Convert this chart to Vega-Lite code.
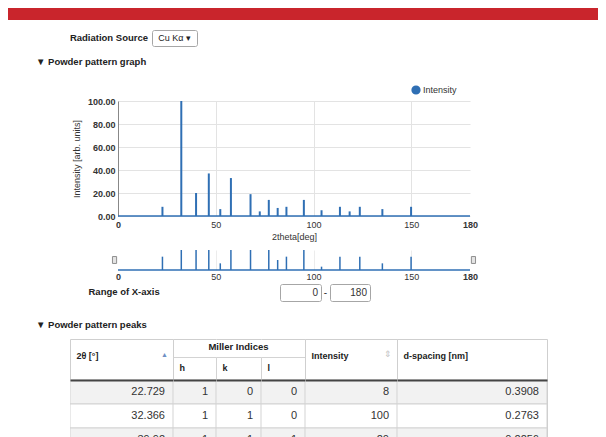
{
  "$schema": "https://vega.github.io/schema/vega-lite/v6.json",
  "background": "white",
  "padding": {"left": 8, "top": 8, "right": 8, "bottom": 0},
  "config": {
    "font": "Liberation Sans",
    "view": {"stroke": null},
    "title": {"font": "Liberation Sans", "fontWeight": "bold", "fontSize": 9.5, "color": "#222222"},
    "axis": {"labelFont": "Liberation Sans", "titleFont": "Liberation Sans"},
    "legend": {"labelFont": "Liberation Sans"}
  },
  "datasets": {
    "peaks": [
      {"tt": 22.729, "h": 1, "k": 0, "l": 0, "I": 8, "d": 0.3908},
      {"tt": 32.366, "h": 1, "k": 1, "l": 0, "I": 100, "d": 0.2763},
      {"tt": 39.92, "h": 1, "k": 1, "l": 1, "I": 20, "d": 0.2256},
      {"tt": 46.434, "h": 2, "k": 0, "l": 0, "I": 37, "d": 0.1954},
      {"tt": 52.304, "h": 2, "k": 1, "l": 0, "I": 6, "d": 0.1748},
      {"tt": 57.74, "h": 2, "k": 1, "l": 1, "I": 33, "d": 0.1595},
      {"tt": 67.77, "h": 2, "k": 2, "l": 0, "I": 19, "d": 0.1382},
      {"tt": 72.5, "h": 3, "k": 0, "l": 0, "I": 4, "d": 0.1303},
      {"tt": 77.11, "h": 3, "k": 1, "l": 0, "I": 14, "d": 0.1236},
      {"tt": 81.65, "h": 3, "k": 1, "l": 1, "I": 7, "d": 0.1178},
      {"tt": 86.13, "h": 2, "k": 2, "l": 2, "I": 8, "d": 0.1128},
      {"tt": 95.04, "h": 3, "k": 2, "l": 1, "I": 14, "d": 0.1044},
      {"tt": 104.08, "h": 4, "k": 0, "l": 0, "I": 5, "d": 0.0977},
      {"tt": 113.49, "h": 4, "k": 1, "l": 1, "I": 8, "d": 0.0921},
      {"tt": 118.45, "h": 3, "k": 3, "l": 1, "I": 4, "d": 0.0897},
      {"tt": 123.65, "h": 4, "k": 2, "l": 0, "I": 8, "d": 0.0874},
      {"tt": 135.19, "h": 3, "k": 3, "l": 2, "I": 6, "d": 0.0833},
      {"tt": 149.87, "h": 4, "k": 2, "l": 2, "I": 8, "d": 0.0798}
    ],
    "range": [{"tt": 0}, {"tt": 180}]
  },
  "spacing": 9,
  "resolve": {"scale": {"color": "independent"}, "legend": {"color": "independent"}},
  "vconcat": [
    {
      "width": 590,
      "height": 12,
      "view": {"fill": "#c9252c", "stroke": null},
      "data": {"values": []},
      "mark": "point"
    },
    {
      "bounds": "flush",
      "spacing": 0,
      "hconcat": [
        {
          "width": 144, "height": 16,
          "title": {"text": "Radiation Source", "anchor": "end", "frame": "group", "dx": -4, "offset": -12},
          "data": {"values": []}, "mark": "point"
        },
        {
          "width": 45, "height": 16,
          "view": {"stroke": "#a6a6a6", "fill": "#ffffff", "cornerRadius": 2},
          "data": {"values": [{"src": "Cu Kα ▾"}]},
          "mark": {"type": "text", "fontSize": 9, "color": "#222222"},
          "encoding": {"text": {"field": "src", "type": "nominal"}}
        }
      ]
    },
    {
      "spacing": 18,
      "resolve": {"scale": {"color": "independent"}, "legend": {"color": "independent"}},
      "vconcat": [
        {
          "bounds": "flush",
          "spacing": 0,
          "resolve": {"scale": {"color": "independent"}, "legend": {"color": "independent"}},
          "hconcat": [
            {"width": 110, "height": 10, "data": {"values": []}, "mark": "point"},
            {
              "title": {"text": "▼ Powder pattern graph", "anchor": "start", "frame": "group", "dx": -82, "offset": 19},
              "bounds": "flush",
              "spacing": 34,
              "resolve": {"scale": {"color": "independent"}, "legend": {"color": "independent"}},
              "vconcat": [
                {
                  "width": 352,
                  "height": 115,
                  "layer": [
                    {
                      "data": {"name": "peaks"},
                      "mark": {"type": "rule", "strokeWidth": 2},
                      "encoding": {
                        "x": {
                          "field": "tt", "type": "quantitative",
                          "scale": {"domain": [0, 180], "nice": false},
                          "axis": {
                            "values": [0, 50, 100, 150, 180],
                            "labelFontSize": 9, "labelOverlap": false,
                            "labelFontWeight": {"condition": {"test": "datum.value == 0 || datum.value == 180", "value": "bold"}, "value": "normal"},
                            "labelColor": "#333333",
                            "ticks": false, "domain": false, "labelPadding": 4, "labelFlush": false,
                            "gridColor": {"condition": {"test": "datum.value == 0 || datum.value == 180", "value": "transparent"}, "value": "#e3e3e3"},
                            "title": "2theta[deg]", "titleFontSize": 9, "titleFontWeight": "normal", "titleColor": "#333333", "titlePadding": 3
                          }
                        },
                        "y": {
                          "field": "I", "type": "quantitative",
                          "scale": {"domain": [0, 100]},
                          "axis": {
                            "values": [0, 20, 40, 60, 80, 100], "tickCount": 6, "format": ".2f", "labelOverlap": false,
                            "labelFontWeight": "bold", "labelFontSize": 9, "labelColor": "#333333",
                            "ticks": false, "labelPadding": 3, "domain": true, "domainColor": "#888888",
                            "gridColor": "#e3e3e3",
                            "title": "Intensity [arb. units]", "titleFontSize": 9, "titleFontWeight": "normal", "titleColor": "#333333", "titlePadding": 6
                          }
                        },
                        "y2": {"datum": 0},
                        "color": {
                          "datum": "Intensity", "type": "nominal",
                          "scale": {"range": ["#2f6fb4"]},
                          "legend": {
                            "orient": "none", "legendX": 293, "legendY": -16, "title": null,
                            "symbolType": "circle", "symbolSize": 60, "symbolFillColor": "#2f6fb4", "symbolStrokeColor": "#2f6fb4",
                            "labelFontSize": 9, "labelColor": "#333333", "labelOffset": 2
                          }
                        }
                      }
                    },
                    {
                      "data": {"values": [{}]},
                      "mark": {"type": "rule", "color": "#2f6fb4", "strokeWidth": 1.5},
                      "encoding": {
                        "y": {
                          "datum": 0, "type": "quantitative",
                          "axis": {
                            "values": [0, 20, 40, 60, 80, 100], "tickCount": 6, "format": ".2f", "labelOverlap": false,
                            "labelFontWeight": "bold", "labelFontSize": 9, "labelColor": "#333333",
                            "ticks": false, "labelPadding": 3, "domain": true, "domainColor": "#888888",
                            "gridColor": "#e3e3e3",
                            "title": "Intensity [arb. units]", "titleFontSize": 9, "titleFontWeight": "normal", "titleColor": "#333333", "titlePadding": 6
                          }
                        }
                      }
                    }
                  ]
                },
                {
                  "bounds": "flush",
                  "spacing": 14,
                  "vconcat": [
                    {
                      "width": 352,
                      "height": 20,
                      "layer": [
                        {
                          "data": {"name": "peaks"},
                          "mark": {"type": "rule", "color": "#2f6fb4", "strokeWidth": 1.5},
                          "encoding": {
                            "x": {
                              "field": "tt", "type": "quantitative",
                              "scale": {"domain": [0, 180], "nice": false},
                              "axis": {
                                "values": [0, 50, 100, 150, 180],
                                "labelFontSize": 9, "labelOverlap": false,
                                "labelFontWeight": {"condition": {"test": "datum.value == 0 || datum.value == 180", "value": "bold"}, "value": "normal"},
                                "labelColor": "#333333",
                                "ticks": false, "domain": false, "labelPadding": 2, "labelFlush": false,
                                "gridColor": {"condition": {"test": "datum.value == 0 || datum.value == 180", "value": "transparent"}, "value": "#ececec"},
                                "title": "Range of X-axis", "titleFontSize": 9.5, "titleFontWeight": "bold", "titleColor": "#222222",
                                "titleX": -30, "titleY": 21, "titleAlign": "left", "titleBaseline": "middle"
                              }
                            },
                            "y": {"field": "I", "type": "quantitative", "scale": {"domain": [4, 10], "clamp": true}, "axis": null},
                            "y2": {"datum": 0}
                          }
                        },
                        {
                          "data": {"values": [{}]},
                          "mark": {"type": "rule", "color": "#2f6fb4", "strokeWidth": 1.5},
                          "encoding": {"y": {"datum": 0}}
                        },
                        {
                          "data": {"name": "range"},
                          "mark": {"type": "point", "filled": true, "fill": "#e4e4e4", "stroke": "#8f8f8f", "strokeWidth": 1, "opacity": 1, "size": 48},
                          "encoding": {
                            "x": {"field": "tt", "type": "quantitative"},
                            "y": {"datum": 7, "type": "quantitative"},
                            "shape": {"condition": {"test": "datum.tt == 0", "value": "M-1.6,-1L-0.4,-1L-0.4,1L-1.6,1Z"}, "value": "M0.4,-1L1.6,-1L1.6,1L0.4,1Z"}
                          }
                        }
                      ]
                    },
                    {
                      "bounds": "flush",
                      "spacing": 0,
                      "hconcat": [
                        {"width": 162, "height": 10, "data": {"values": []}, "mark": "point"},
                        {
                          "width": 41, "height": 17,
                          "view": {"stroke": "#a6a6a6", "fill": "#ffffff", "cornerRadius": 2},
                          "data": {"values": [{"v": 0}]},
                          "mark": {"type": "text", "align": "right", "dx": -3, "fontSize": 10, "color": "#333333"},
                          "encoding": {"x": {"datum": 1, "type": "quantitative", "scale": {"domain": [0, 1]}, "axis": null}, "text": {"field": "v", "type": "nominal"}}
                        },
                        {
                          "width": 9, "height": 17,
                          "data": {"values": [{"v": "-"}]},
                          "mark": {"type": "text", "fontSize": 10, "color": "#333333"},
                          "encoding": {"text": {"field": "v", "type": "nominal"}}
                        },
                        {
                          "width": 40, "height": 17,
                          "view": {"stroke": "#a6a6a6", "fill": "#ffffff", "cornerRadius": 2},
                          "data": {"values": [{"v": 180}]},
                          "mark": {"type": "text", "align": "right", "dx": -3, "fontSize": 10, "color": "#333333"},
                          "encoding": {"x": {"datum": 1, "type": "quantitative", "scale": {"domain": [0, 1]}, "axis": null}, "text": {"field": "v", "type": "nominal"}}
                        }
                      ]
                    }
                  ]
                }
              ]
            }
          ]
        },
        {
          "title": {"text": "▼ Powder pattern peaks", "anchor": "start", "frame": "group", "dx": 28, "offset": 9},
          "bounds": "flush",
          "spacing": 0,
          "resolve": {"scale": {"color": "independent"}, "legend": {"color": "independent"}},
          "hconcat": [
            {"width": 62, "height": 10, "data": {"values": []}, "mark": "point"},
            {
              "width": 103, "height": 98,
              "title": {"text": "▲", "anchor": "end", "frame": "group", "dx": -5, "offset": -19, "fontSize": 7, "color": "#6f8fc4", "fontWeight": "normal"},
              "data": {"name": "peaks"},
              "transform": [{"filter": "datum.tt < 40"}, {"window": [{"op": "row_number", "as": "rn"}], "sort": [{"field": "tt"}]}],
              "view": {"stroke": "#cfcfcf"},
              "layer": [
                {"mark": {"type": "rect", "stroke": "#d3d3d3", "strokeWidth": 1, "clip": true},
                 "encoding": {
                   "y": {"field": "tt", "type": "ordinal", "scale": {"range": [41, 113], "paddingInner": 0, "paddingOuter": 0}, "axis": null},
                   "fill": {"condition": {"test": "datum.rn % 2 == 1", "value": "#f2f2f2"}, "value": "#ffffff"}}},
                {"mark": {"type": "text", "align": "right", "dx": -8, "fontSize": 11, "color": "#333333", "clip": true},
                 "encoding": {
                   "x": {"datum": 1, "type": "quantitative", "scale": {"domain": [0, 1]}, "axis": {"orient": "top", "offset": -41, "zindex": 2, "labels": false, "ticks": false, "grid": false, "domainColor": "#444444", "domainWidth": 2, "title": "2θ [°]", "titleX": 6, "titleY": -25, "titleAlign": "left", "titleAnchor": "start", "titleBaseline": "middle", "titleFontSize": 9, "titleFontWeight": "bold", "titleColor": "#222222"}},
                   "y": {"field": "tt", "type": "ordinal"},
                   "text": {"field": "tt", "type": "nominal"}}}
              ]
            },
            {
              "width": 43, "height": 98,
              "data": {"name": "peaks"},
              "transform": [{"filter": "datum.tt < 40"}, {"window": [{"op": "row_number", "as": "rn"}], "sort": [{"field": "tt"}]}],
              "resolve": {"scale": {"x": "independent", "y": "independent"}, "axis": {"x": "independent", "y": "independent"}},
              "layer": [
                {"mark": {"type": "rect", "stroke": "#d3d3d3", "strokeWidth": 1, "clip": true},
                 "encoding": {
                   "y": {"field": "tt", "type": "ordinal", "scale": {"range": [41, 113], "paddingInner": 0, "paddingOuter": 0}, "axis": null},
                   "fill": {"condition": {"test": "datum.rn % 2 == 1", "value": "#f2f2f2"}, "value": "#ffffff"}}},
                {"mark": {"type": "text", "align": "right", "dx": -8, "fontSize": 11, "color": "#333333", "clip": true},
                 "encoding": {
                   "x": {"datum": 1, "type": "quantitative", "scale": {"domain": [0, 1]}, "axis": {"orient": "top", "offset": -41, "zindex": 2, "labels": false, "ticks": false, "grid": false, "domainColor": "#444444", "domainWidth": 2, "title": "h", "titleX": 6, "titleY": -13, "titleAlign": "left", "titleAnchor": "start", "titleBaseline": "middle", "titleFontSize": 9, "titleFontWeight": "bold", "titleColor": "#222222"}},
                   "y": {"field": "tt", "type": "ordinal", "scale": {"range": [41, 113], "paddingInner": 0, "paddingOuter": 0}, "axis": null},
                   "text": {"field": "h", "type": "nominal"}}},
                {"mark": {"type": "point", "opacity": 0},
                 "encoding": {
                   "x": {"datum": 1, "type": "quantitative", "scale": {"domain": [0, 1]}, "axis": {"orient": "top", "offset": -18, "zindex": 2, "labels": false, "ticks": false, "grid": false, "domainColor": "#d3d3d3", "domainWidth": 1, "title": null}},
                   "y": {"field": "tt", "type": "ordinal", "scale": {"range": [18, 98], "paddingInner": 0, "paddingOuter": 0}, "axis": {"orient": "right", "labels": false, "ticks": false, "grid": false, "domainColor": "#d3d3d3", "domainWidth": 1, "title": null, "zindex": 2}}}},
                {"mark": {"type": "point", "opacity": 0},
                 "encoding": {
                   "x": {"datum": 1, "type": "quantitative", "scale": {"domain": [0, 1]}, "axis": {"orient": "top", "offset": 0, "zindex": 2, "labels": false, "ticks": false, "grid": false, "domainColor": "#cfcfcf", "domainWidth": 1, "title": null}},
                   "y": {"field": "tt", "type": "ordinal", "axis": null}}}
              ]
            },
            {
              "width": 45, "height": 98,
              "title": {"text": "Miller Indices", "anchor": "middle", "frame": "group", "offset": -12},
              "data": {"name": "peaks"},
              "transform": [{"filter": "datum.tt < 40"}, {"window": [{"op": "row_number", "as": "rn"}], "sort": [{"field": "tt"}]}],
              "resolve": {"scale": {"x": "independent", "y": "independent"}, "axis": {"x": "independent", "y": "independent"}},
              "layer": [
                {"mark": {"type": "rect", "stroke": "#d3d3d3", "strokeWidth": 1, "clip": true},
                 "encoding": {
                   "y": {"field": "tt", "type": "ordinal", "scale": {"range": [41, 113], "paddingInner": 0, "paddingOuter": 0}, "axis": null},
                   "fill": {"condition": {"test": "datum.rn % 2 == 1", "value": "#f2f2f2"}, "value": "#ffffff"}}},
                {"mark": {"type": "text", "align": "right", "dx": -8, "fontSize": 11, "color": "#333333", "clip": true},
                 "encoding": {
                   "x": {"datum": 1, "type": "quantitative", "scale": {"domain": [0, 1]}, "axis": {"orient": "top", "offset": -41, "zindex": 2, "labels": false, "ticks": false, "grid": false, "domainColor": "#444444", "domainWidth": 2, "title": "k", "titleX": 6, "titleY": -13, "titleAlign": "left", "titleAnchor": "start", "titleBaseline": "middle", "titleFontSize": 9, "titleFontWeight": "bold", "titleColor": "#222222"}},
                   "y": {"field": "tt", "type": "ordinal", "scale": {"range": [41, 113], "paddingInner": 0, "paddingOuter": 0}, "axis": null},
                   "text": {"field": "k", "type": "nominal"}}},
                {"mark": {"type": "point", "opacity": 0},
                 "encoding": {
                   "x": {"datum": 1, "type": "quantitative", "scale": {"domain": [0, 1]}, "axis": {"orient": "top", "offset": -18, "zindex": 2, "labels": false, "ticks": false, "grid": false, "domainColor": "#d3d3d3", "domainWidth": 1, "title": null}},
                   "y": {"field": "tt", "type": "ordinal", "scale": {"range": [18, 98], "paddingInner": 0, "paddingOuter": 0}, "axis": {"orient": "right", "labels": false, "ticks": false, "grid": false, "domainColor": "#d3d3d3", "domainWidth": 1, "title": null, "zindex": 2}}}},
                {"mark": {"type": "point", "opacity": 0},
                 "encoding": {
                   "x": {"datum": 1, "type": "quantitative", "scale": {"domain": [0, 1]}, "axis": {"orient": "top", "offset": 0, "zindex": 2, "labels": false, "ticks": false, "grid": false, "domainColor": "#cfcfcf", "domainWidth": 1, "title": null}},
                   "y": {"field": "tt", "type": "ordinal", "axis": null}}}
              ]
            },
            {
              "width": 44, "height": 98,
              "data": {"name": "peaks"},
              "transform": [{"filter": "datum.tt < 40"}, {"window": [{"op": "row_number", "as": "rn"}], "sort": [{"field": "tt"}]}],
              "resolve": {"scale": {"x": "independent", "y": "independent"}, "axis": {"x": "independent", "y": "independent"}},
              "layer": [
                {"mark": {"type": "rect", "stroke": "#d3d3d3", "strokeWidth": 1, "clip": true},
                 "encoding": {
                   "y": {"field": "tt", "type": "ordinal", "scale": {"range": [41, 113], "paddingInner": 0, "paddingOuter": 0}, "axis": null},
                   "fill": {"condition": {"test": "datum.rn % 2 == 1", "value": "#f2f2f2"}, "value": "#ffffff"}}},
                {"mark": {"type": "text", "align": "right", "dx": -8, "fontSize": 11, "color": "#333333", "clip": true},
                 "encoding": {
                   "x": {"datum": 1, "type": "quantitative", "scale": {"domain": [0, 1]}, "axis": {"orient": "top", "offset": -41, "zindex": 2, "labels": false, "ticks": false, "grid": false, "domainColor": "#444444", "domainWidth": 2, "title": "l", "titleX": 6, "titleY": -13, "titleAlign": "left", "titleAnchor": "start", "titleBaseline": "middle", "titleFontSize": 9, "titleFontWeight": "bold", "titleColor": "#222222"}},
                   "y": {"field": "tt", "type": "ordinal", "scale": {"range": [41, 113], "paddingInner": 0, "paddingOuter": 0}, "axis": null},
                   "text": {"field": "l", "type": "nominal"}}},
                {"mark": {"type": "point", "opacity": 0},
                 "encoding": {
                   "x": {"datum": 1, "type": "quantitative", "scale": {"domain": [0, 1]}, "axis": {"orient": "top", "offset": -18, "zindex": 2, "labels": false, "ticks": false, "grid": false, "domainColor": "#d3d3d3", "domainWidth": 1, "title": null}},
                   "y": {"field": "tt", "type": "ordinal", "axis": null}}},
                {"mark": {"type": "point", "opacity": 0},
                 "encoding": {
                   "x": {"datum": 1, "type": "quantitative", "scale": {"domain": [0, 1]}, "axis": {"orient": "top", "offset": 0, "zindex": 2, "labels": false, "ticks": false, "grid": false, "domainColor": "#cfcfcf", "domainWidth": 1, "title": null}},
                   "y": {"field": "tt", "type": "ordinal", "axis": null}}}
              ]
            },
            {
              "width": 92, "height": 98,
              "title": {"text": "⇕", "anchor": "end", "frame": "group", "dx": -5, "offset": -20, "fontSize": 9, "color": "#c4c4c4", "fontWeight": "normal"},
              "data": {"name": "peaks"},
              "transform": [{"filter": "datum.tt < 40"}, {"window": [{"op": "row_number", "as": "rn"}], "sort": [{"field": "tt"}]}],
              "view": {"stroke": "#cfcfcf"},
              "layer": [
                {"mark": {"type": "rect", "stroke": "#d3d3d3", "strokeWidth": 1, "clip": true},
                 "encoding": {
                   "y": {"field": "tt", "type": "ordinal", "scale": {"range": [41, 113], "paddingInner": 0, "paddingOuter": 0}, "axis": null},
                   "fill": {"condition": {"test": "datum.rn % 2 == 1", "value": "#f2f2f2"}, "value": "#ffffff"}}},
                {"mark": {"type": "text", "align": "right", "dx": -8, "fontSize": 11, "color": "#333333", "clip": true},
                 "encoding": {
                   "x": {"datum": 1, "type": "quantitative", "scale": {"domain": [0, 1]}, "axis": {"orient": "top", "offset": -41, "zindex": 2, "labels": false, "ticks": false, "grid": false, "domainColor": "#444444", "domainWidth": 2, "title": "Intensity", "titleX": 6, "titleY": -25, "titleAlign": "left", "titleAnchor": "start", "titleBaseline": "middle", "titleFontSize": 9, "titleFontWeight": "bold", "titleColor": "#222222"}},
                   "y": {"field": "tt", "type": "ordinal"},
                   "text": {"field": "I", "type": "nominal"}}}
              ]
            },
            {
              "width": 150, "height": 98,
              "data": {"name": "peaks"},
              "transform": [{"filter": "datum.tt < 40"}, {"window": [{"op": "row_number", "as": "rn"}], "sort": [{"field": "tt"}]}],
              "view": {"stroke": "#cfcfcf"},
              "layer": [
                {"mark": {"type": "rect", "stroke": "#d3d3d3", "strokeWidth": 1, "clip": true},
                 "encoding": {
                   "y": {"field": "tt", "type": "ordinal", "scale": {"range": [41, 113], "paddingInner": 0, "paddingOuter": 0}, "axis": null},
                   "fill": {"condition": {"test": "datum.rn % 2 == 1", "value": "#f2f2f2"}, "value": "#ffffff"}}},
                {"mark": {"type": "text", "align": "right", "dx": -8, "fontSize": 11, "color": "#333333", "clip": true},
                 "encoding": {
                   "x": {"datum": 1, "type": "quantitative", "scale": {"domain": [0, 1]}, "axis": {"orient": "top", "offset": -41, "zindex": 2, "labels": false, "ticks": false, "grid": false, "domainColor": "#444444", "domainWidth": 2, "title": "d-spacing [nm]", "titleX": 6, "titleY": -25, "titleAlign": "left", "titleAnchor": "start", "titleBaseline": "middle", "titleFontSize": 9, "titleFontWeight": "bold", "titleColor": "#222222"}},
                   "y": {"field": "tt", "type": "ordinal"},
                   "text": {"field": "d", "type": "nominal"}}}
              ]
            }
          ]
        }
      ]
    }
  ]
}
